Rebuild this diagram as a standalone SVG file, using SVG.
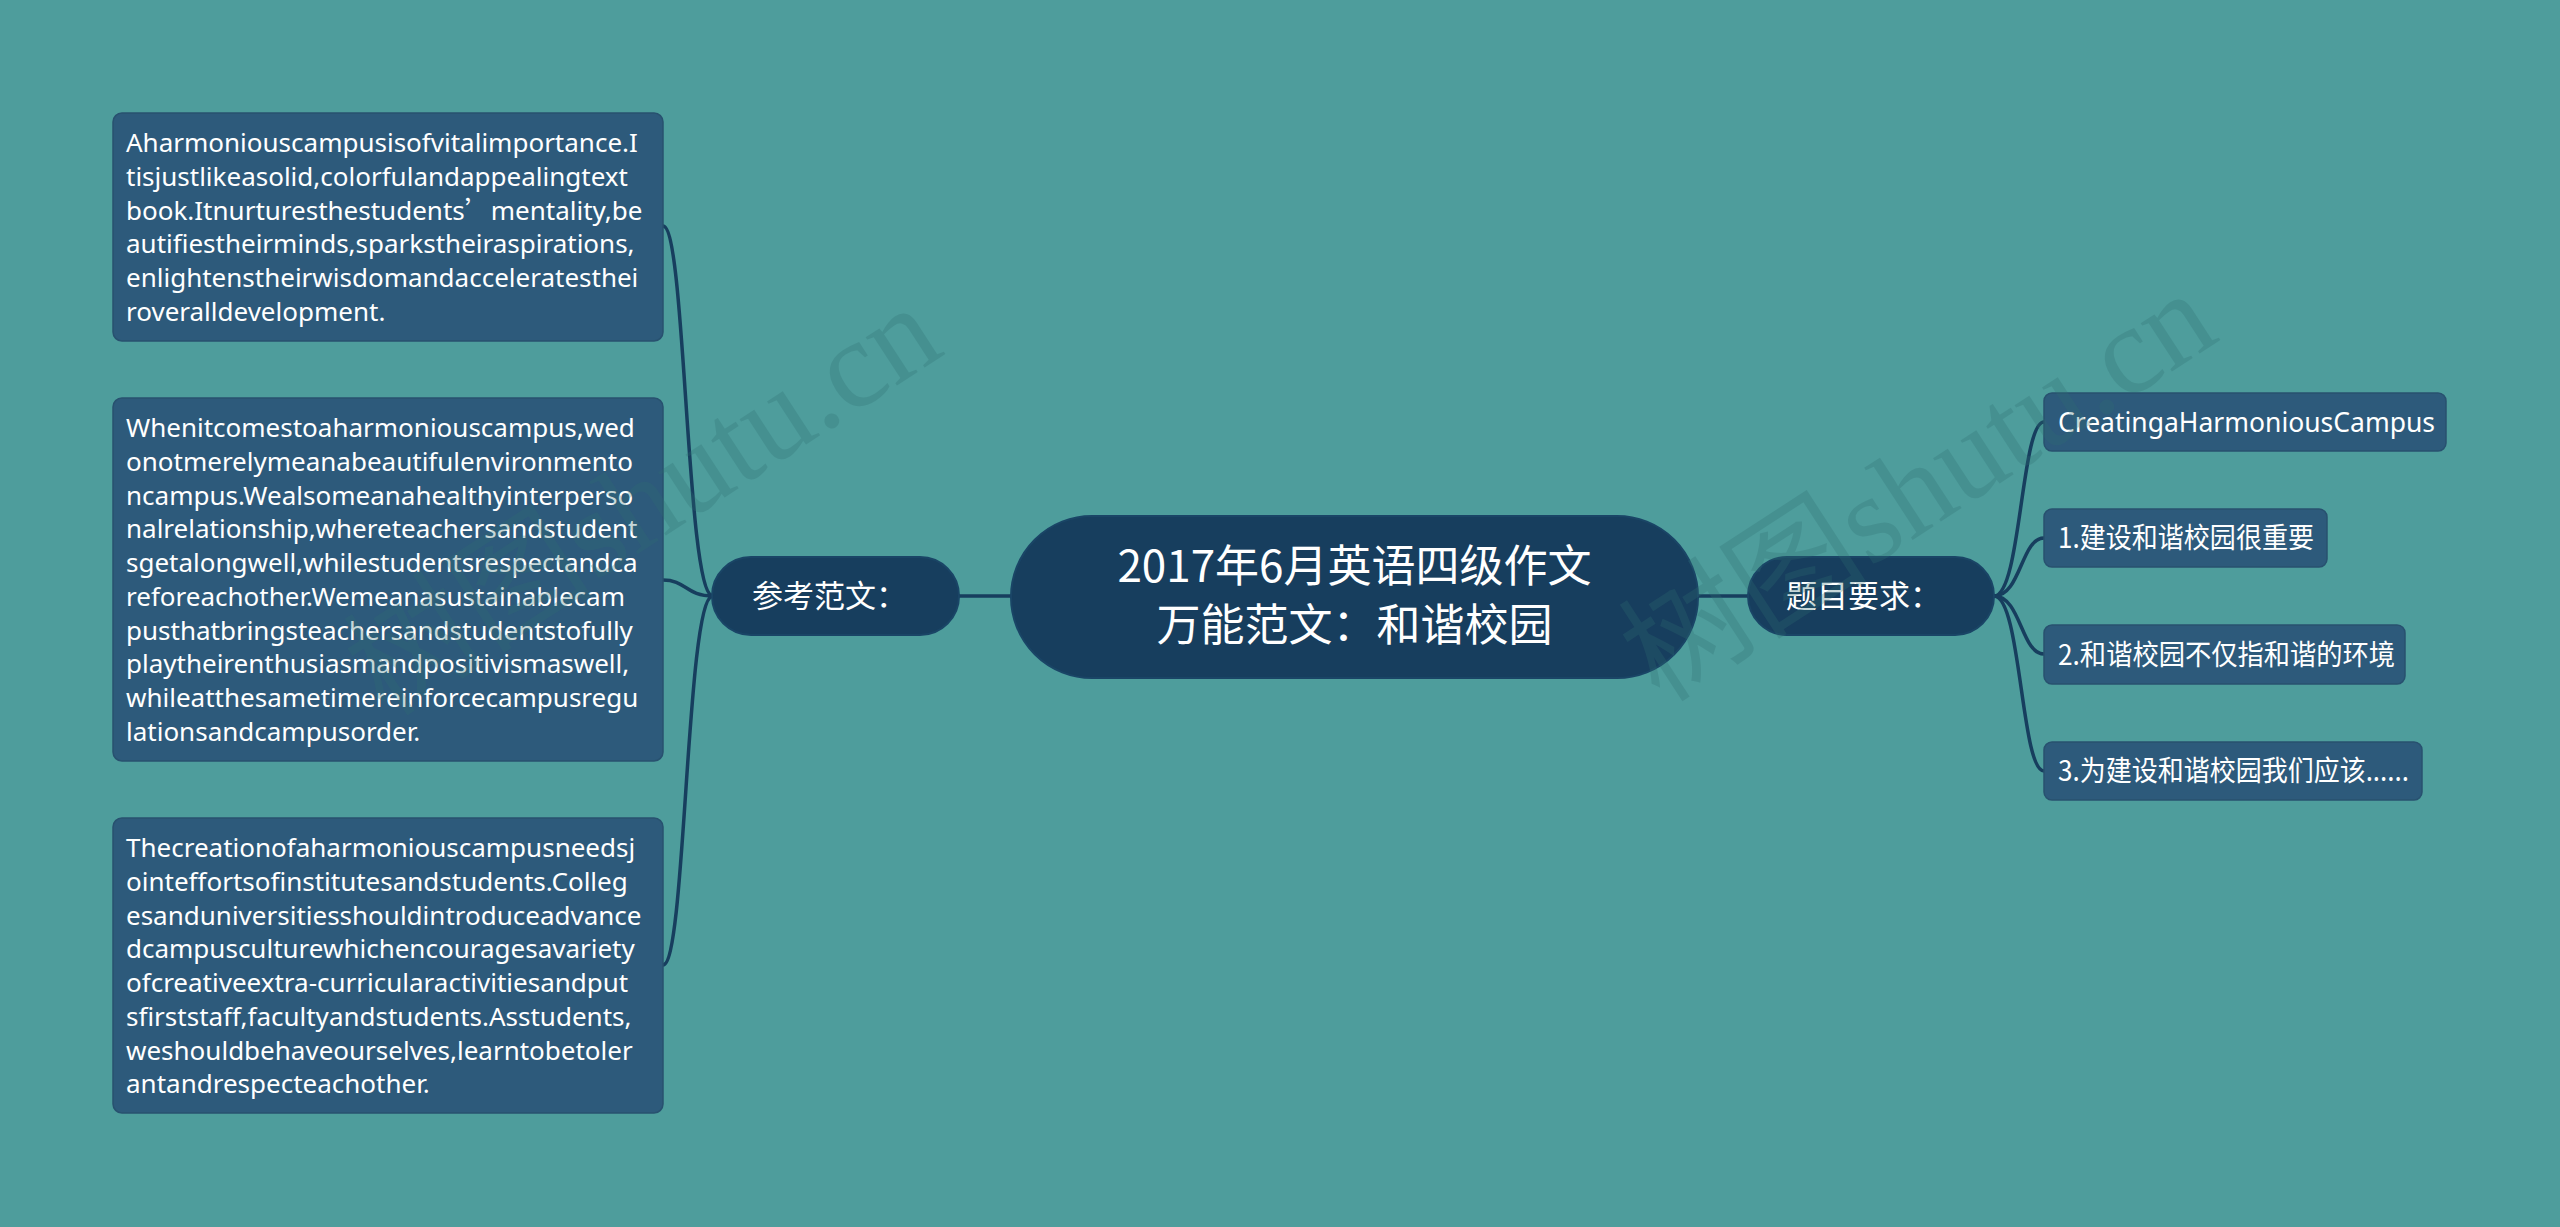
<svg xmlns="http://www.w3.org/2000/svg" width="2560" height="1227" viewBox="0 0 2560 1227">
<style>
.bg{fill:#4e9d9c}
.main{fill:#173e5e;stroke:#1a4566;stroke-width:2}
.sub{fill:#173e5e;stroke:#1a4566;stroke-width:2}
.leaf{fill:#2d5a7b;stroke:#28516f;stroke-width:1.5}
.conn{fill:none;stroke:#173e5e;stroke-width:3.5;stroke-linecap:round}
.t{fill:#ffffff;font-family:"Noto Sans","Noto Sans CJK SC",sans-serif}
.body{font-size:26px}
.cjk{font-family:"Noto Sans CJK SC","Noto Sans",sans-serif}
.wm{fill:#2f6f72;opacity:0.27;font-family:"Liberation Serif","Noto Sans CJK SC",serif;font-size:125px}
</style>
<rect class="bg" x="0" y="0" width="2560" height="1227"/>

<g id="connectors">
  <path class="conn" d="M959 596 H1011"/>
  <path class="conn" d="M1698 596 H1748"/>
  <path class="conn" d="M713 596 C686 596 686 226 663 226"/>
  <path class="conn" d="M713 596 C686 596 686 580 663 580"/>
  <path class="conn" d="M713 596 C686 596 686 965 663 965"/>
  <path class="conn" d="M1994 596 C2021 596 2021 422 2044 422"/>
  <path class="conn" d="M1994 596 C2021 596 2021 538 2044 538"/>
  <path class="conn" d="M1994 596 C2021 596 2021 654 2044 654"/>
  <path class="conn" d="M1994 596 C2021 596 2021 771 2044 771"/>
</g>

<g id="center">
  <rect class="main" x="1011" y="516" width="687" height="162" rx="81"/>
  <text class="t cjk" x="1354.5" y="582" font-size="44" text-anchor="middle">2017年6月英语四级作文</text>
  <text class="t cjk" x="1354.5" y="641" font-size="44" text-anchor="middle">万能范文：和谐校园</text>
</g>

<g id="ref">
  <rect class="sub" x="712" y="557" width="247" height="78" rx="39"/>
  <text class="t cjk" x="752" y="607" font-size="31">参考范文：</text>
</g>

<g id="req">
  <rect class="sub" x="1748" y="557" width="246" height="78" rx="39"/>
  <text class="t cjk" x="1786" y="607" font-size="31">题目要求：</text>
</g>

<g id="essay1">
  <rect class="leaf" x="113" y="113" width="550" height="228" rx="9"/>
  <text class="t body" x="126" y="152">Aharmoniouscampusisofvitalimportance.I</text>
  <text class="t body" x="126" y="185.75">tisjustlikeasolid,colorfulandappealingtext</text>
  <text class="t body" x="126" y="219.5">book.Itnurturesthestudents<tspan class="cjk">’</tspan>mentality,be</text>
  <text class="t body" x="126" y="253.25">autifiestheirminds,sparkstheiraspirations,</text>
  <text class="t body" x="126" y="287">enlightenstheirwisdomandacceleratesthei</text>
  <text class="t body" x="126" y="320.75">roveralldevelopment.</text>
</g>

<g id="essay2">
  <rect class="leaf" x="113" y="398" width="550" height="363" rx="9"/>
  <text class="t body" x="126" y="437">Whenitcomestoaharmoniouscampus,wed</text>
  <text class="t body" x="126" y="470.75">onotmerelymeanabeautifulenvironmento</text>
  <text class="t body" x="126" y="504.5">ncampus.Wealsomeanahealthyinterperso</text>
  <text class="t body" x="126" y="538.25">nalrelationship,whereteachersandstudent</text>
  <text class="t body" x="126" y="572">sgetalongwell,whilestudentsrespectandca</text>
  <text class="t body" x="126" y="605.75">reforeachother.Wemeanasustainablecam</text>
  <text class="t body" x="126" y="639.5">pusthatbringsteachersandstudentstofully</text>
  <text class="t body" x="126" y="673.25">playtheirenthusiasmandpositivismaswell,</text>
  <text class="t body" x="126" y="707">whileatthesametimereinforcecampusregu</text>
  <text class="t body" x="126" y="740.75">lationsandcampusorder.</text>
</g>

<g id="essay3">
  <rect class="leaf" x="113" y="818" width="550" height="295" rx="9"/>
  <text class="t body" x="126" y="857">Thecreationofaharmoniouscampusneedsj</text>
  <text class="t body" x="126" y="890.75">ointeffortsofinstitutesandstudents.Colleg</text>
  <text class="t body" x="126" y="924.5">esanduniversitiesshouldintroduceadvance</text>
  <text class="t body" x="126" y="958.25">dcampusculturewhichencouragesavariety</text>
  <text class="t body" x="126" y="992">ofcreativeextra-curricularactivitiesandput</text>
  <text class="t body" x="126" y="1025.75">sfirststaff,facultyandstudents.Asstudents,</text>
  <text class="t body" x="126" y="1059.5">weshouldbehaveourselves,learntobetoler</text>
  <text class="t body" x="126" y="1093.25">antandrespecteachother.</text>
</g>

<g id="title">
  <rect class="leaf" x="2044" y="393" width="402" height="58" rx="8"/>
  <text class="t" x="2058" y="432" font-size="27.5" textLength="377" lengthAdjust="spacingAndGlyphs">CreatingaHarmoniousCampus</text>
</g>
<g id="req1">
  <rect class="leaf" x="2044" y="509" width="283" height="58" rx="8"/>
  <text class="t cjk" x="2058" y="548" font-size="28.5" textLength="256" lengthAdjust="spacingAndGlyphs">1.建设和谐校园很重要</text>
</g>
<g id="req2">
  <rect class="leaf" x="2044" y="625" width="361" height="59" rx="8"/>
  <text class="t cjk" x="2058" y="665" font-size="28.5" textLength="337" lengthAdjust="spacingAndGlyphs">2.和谐校园不仅指和谐的环境</text>
</g>
<g id="req3">
  <rect class="leaf" x="2044" y="742" width="378" height="58" rx="8"/>
  <text class="t cjk" x="2058" y="781" font-size="28.5" textLength="351" lengthAdjust="spacingAndGlyphs">3.为建设和谐校园我们应该......</text>
</g>

<g id="watermark">
  <text class="wm" transform="translate(385 718) rotate(-33)">树图shutu.cn</text>
  <text class="wm" transform="translate(1660 704) rotate(-33)">树图shutu.cn</text>
</g>
</svg>
